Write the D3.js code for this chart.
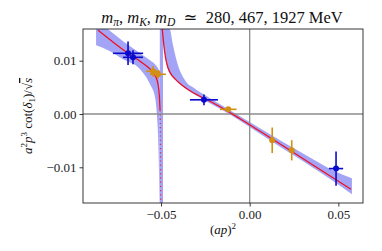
<!DOCTYPE html>
<html><head><meta charset="utf-8">
<script src="https://cdn.jsdelivr.net/npm/d3@7"></script>
<style>html,body{margin:0;padding:0;background:#fff;}svg{display:block;}</style>
</head><body>
<script>
// ---- data ----
const xTicks = [-0.05, 0.00, 0.05];
const yTicks = [0.01, 0.00, -0.01];

const blueX    = [-0.0686, -0.0658, -0.0258, 0.0487];
const blueY    = [0.01139, 0.01064, 0.00266, -0.01024];
const blueXerr = [0.0085, 0.0056, 0.0079, 0.0040];
const blueYerr = [0.0022, 0.0013, 0.0010, 0.0032];

const orangeX    = [-0.0545, -0.0517, -0.0121, 0.0127, 0.0237];
const orangeY    = [0.00801, 0.00745, 0.00088, -0.00493, -0.00681];
const orangeXerr = [0.0040, 0.0045, 0.0047, 0.0006, 0.0006];
const orangeYerr = [0.0010, 0.0008, 0.0004, 0.0024, 0.0019];

// fit curve, left branch (below the pole) and right branch
const fitLeftX  = [-0.08551, -0.07762, -0.06973, -0.06184, -0.05733, -0.05451, -0.05282, -0.05169, -0.05096, -0.05056, -0.05034, -0.05017];
const fitLeftY  = [0.01570, 0.01364, 0.01167, 0.00989, 0.00876, 0.00782, 0.00688, 0.00557, 0.00351, 0.00069, -0.00493, -0.01807];
const fitRightX = [-0.04966, -0.04927, -0.04870, -0.04791, -0.04679, -0.04493, -0.04211, -0.03816, -0.03365, -0.02914, -0.02463, -0.01674, -0.00547, 0.00581, 0.02272, 0.03963, 0.05710];
const fitRightY = [0.01758, 0.01589, 0.01383, 0.01158, 0.00951, 0.00782, 0.00660, 0.00538, 0.00435, 0.00351, 0.00276, 0.00135, -0.00090, -0.00325, -0.00681, -0.01041, -0.01413];

// error band
const bandLeftX  = [-0.08664, -0.07988, -0.07142, -0.06184, -0.05620, -0.05338, -0.05242, -0.05141, -0.05073];
const bandLeftHi = [0.01758, 0.01589, 0.01364, 0.01139, 0.01008, 0.00932, 0.00895, 0.00839, 0.00782];
const bandLeftLo = [0.01289, 0.01195, 0.01026, 0.00839, 0.00557, 0.00313, 0.00032, -0.00681, -0.01807];
const bandPoleX  = [-0.05068, -0.04887];
const bandRightX  = [-0.04887, -0.04662, -0.04493, -0.04324, -0.04042, -0.03647, -0.03083, -0.02463, -0.01674, -0.00547, 0.00581, 0.01708, 0.02835, 0.03963, 0.04808, 0.05767];
const bandRightHi = [0.01758, 0.01664, 0.01589, 0.01289, 0.00914, 0.00632, 0.00473, 0.00341, 0.00182, -0.00043, -0.00268, -0.00493, -0.00709, -0.00925, -0.01075, -0.01206];
const bandRightLo = [0.01383, 0.00895, 0.00745, 0.00679, 0.00595, 0.00482, 0.00360, 0.00238, 0.00098, -0.00128, -0.00371, -0.00615, -0.00850, -0.01094, -0.01281, -0.01507];

// ---- drawing ----
const W = 382, H = 251;
const L = 83, R = 363, T = 29, B = 203;
const x = d3.scaleLinear().domain([-0.0940, 0.0639]).range([L, R]);
const y = d3.scaleLinear().domain([-0.0167, 0.01595]).range([B, T]);

const svg = d3.select("body").append("svg").attr("width", W).attr("height", H);
svg.append("defs").append("clipPath").attr("id", "clip")
  .append("rect").attr("x", L).attr("y", T).attr("width", R - L).attr("height", B - T);

const plot = svg.append("g").attr("clip-path", "url(#clip)");
const bandColor = "#9494f6";

function band(xs, hi, lo) {
  const d = xs.map((v, i) => ({x: v, hi: hi[i], lo: lo[i]}));
  plot.append("path").datum(d)
    .attr("d", d3.area().x(p => x(p.x)).y0(p => y(p.lo)).y1(p => y(p.hi)).curve(d3.curveMonotoneX))
    .attr("fill", bandColor).attr("fill-opacity", 0.85).attr("stroke", "none");
}
band(bandLeftX, bandLeftHi, bandLeftLo);
band(bandRightX, bandRightHi, bandRightLo);
plot.append("rect")
  .attr("x", x(bandPoleX[0])).attr("width", x(bandPoleX[1]) - x(bandPoleX[0]))
  .attr("y", T).attr("height", B - T)
  .attr("fill", bandColor).attr("fill-opacity", 0.85);

// reference lines at zero
plot.append("line").attr("x1", L).attr("x2", R).attr("y1", y(0)).attr("y2", y(0))
  .attr("stroke", "#8c8c8c").attr("stroke-width", 1.3);
plot.append("line").attr("x1", x(0)).attr("x2", x(0)).attr("y1", T).attr("y2", B)
  .attr("stroke", "#8c8c8c").attr("stroke-width", 1.3);

// fit curve
function fit(pts, dashed) {
  const p = plot.append("path").datum(pts)
    .attr("d", d3.line().x(q => x(q[0])).y(q => y(q[1])).curve(d3.curveMonotoneX))
    .attr("fill", "none").attr("stroke", "#f01020").attr("stroke-width", 1.3);
  if (dashed) p.attr("stroke-dasharray", "1.2,3").attr("stroke-opacity", 0.8);
}
const leftPts = fitLeftX.map((v, i) => [v, fitLeftY[i]]);
fit(leftPts.slice(0, 10), false);          // visible part of the left branch
fit(leftPts.slice(9), true);               // steep dive at the pole (rendered sparse)
fit(fitRightX.map((v, i) => [v, fitRightY[i]]), false);

// data points
function points(xs, ys, xe, ye, color) {
  const g = plot.append("g");
  xs.forEach((v, i) => {
    g.append("line").attr("x1", x(v - xe[i])).attr("x2", x(v + xe[i]))
      .attr("y1", y(ys[i])).attr("y2", y(ys[i])).attr("stroke", color).attr("stroke-width", 1.6);
    g.append("line").attr("x1", x(v)).attr("x2", x(v))
      .attr("y1", y(ys[i] - ye[i])).attr("y2", y(ys[i] + ye[i])).attr("stroke", color).attr("stroke-width", 1.6);
    g.append("circle").attr("cx", x(v)).attr("cy", y(ys[i])).attr("r", 3).attr("fill", color);
  });
}
points(orangeX, orangeY, orangeXerr, orangeYerr, "#d38f12");
points(blueX, blueY, blueXerr, blueYerr, "#0a0acc");

// frame
svg.append("rect").attr("x", L).attr("y", T).attr("width", R - L).attr("height", B - T)
  .attr("fill", "none").attr("stroke", "#222").attr("stroke-width", 0.9);

const font = "'Liberation Serif', 'DejaVu Serif', serif";
// axes
const fmt = v => (v < 0 ? "\u2212" : "") + Math.abs(v).toFixed(2);
const xAxis = svg.append("g").attr("transform", `translate(0,${B})`)
  .call(d3.axisBottom(x).tickValues(xTicks).tickSize(3.5).tickPadding(3).tickFormat(fmt));
const yAxis = svg.append("g").attr("transform", `translate(${L},0)`)
  .call(d3.axisLeft(y).tickValues(yTicks).tickSize(3.5).tickPadding(3).tickFormat(fmt));
[xAxis, yAxis].forEach(a => {
  a.select(".domain").remove();
  a.selectAll("line").attr("stroke", "#222").attr("stroke-width", 0.9);
  a.selectAll("text").attr("font-family", font).attr("font-size", 13).attr("fill", "#222");
});

// title
const title = svg.append("text").attr("x", (L + R) / 2 - 1).attr("y", 22.5)
  .attr("text-anchor", "middle").attr("font-family", font).attr("font-size", 16.5).attr("fill", "#111")
  .attr("style", "white-space:pre");
function tsp(el, txt, opts = {}) {
  const t = el.append("tspan").text(txt);
  if (opts.italic) t.attr("font-style", "italic");
  if (opts.size) t.attr("font-size", opts.size);
  if (opts.dy) t.attr("dy", opts.dy);
  return t;
}
tsp(title, "m", {italic: true}); tsp(title, "\u03c0", {italic: true, size: 11.5, dy: 3});
tsp(title, ", ", {dy: -3}); tsp(title, "m", {italic: true}); tsp(title, "K", {italic: true, size: 11.5, dy: 3});
tsp(title, ", ", {dy: -3}); tsp(title, "m", {italic: true}); tsp(title, "D", {italic: true, size: 11.5, dy: 3});
tsp(title, "  \u2243  280, 467, 1927 MeV", {dy: -3});

// x label
const xl = svg.append("text").attr("x", (L + R) / 2).attr("y", 234)
  .attr("text-anchor", "middle").attr("font-family", font).attr("font-size", 13).attr("fill", "#111");
tsp(xl, "("); tsp(xl, "ap", {italic: true}); tsp(xl, ")"); tsp(xl, "2", {size: 9, dy: -5});

// y label
const yl = svg.append("text").attr("transform", `translate(32,${(T + B) / 2}) rotate(-90)`)
  .attr("text-anchor", "middle").attr("font-family", font).attr("font-size", 13).attr("fill", "#111");
tsp(yl, "a", {italic: true}); tsp(yl, "2", {size: 9, dy: -5});
tsp(yl, "p", {italic: true, dy: 5}); tsp(yl, "3", {size: 9, dy: -5});
tsp(yl, " cot(", {dy: 5}); tsp(yl, "\u03b4", {italic: true}); tsp(yl, "1", {size: 9, dy: 3});
tsp(yl, ")/\u221a", {dy: -3}); tsp(yl, "s", {italic: true}).attr("text-decoration", "overline");
</script>
</body></html>
